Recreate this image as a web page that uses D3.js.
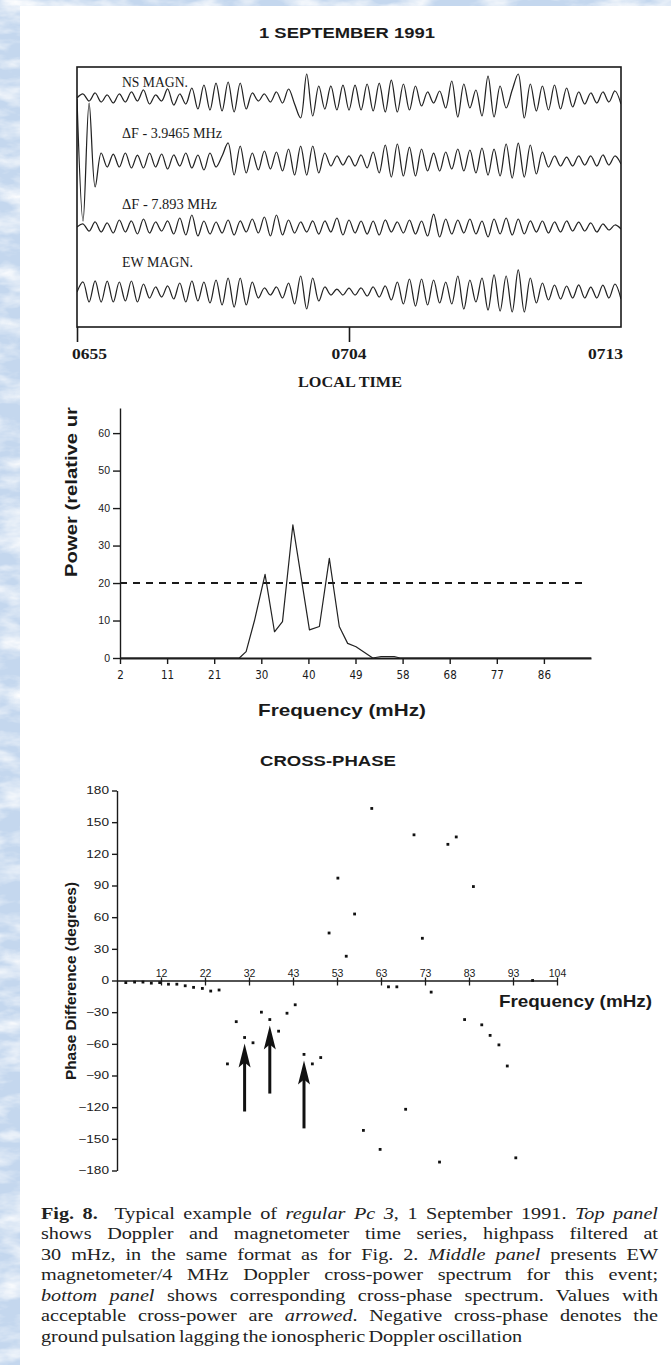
<!DOCTYPE html>
<html>
<head>
<meta charset="utf-8">
<script src="https://cdn.jsdelivr.net/npm/d3@7"></script>
<style>
  html, body { margin: 0; padding: 0; background: #c4d7ee; }
  svg { display: block; }
  .sans { font-family: "Liberation Sans", Arial, sans-serif; }
  .serif { font-family: "Liberation Serif", "Times New Roman", serif; }
</style>
</head>
<body>
<svg id="fig" width="671" height="1365"></svg>
<script>
// ---------- top panel: highpass filtered time series, one sample every 12 s ----------
const sampleStep = 12;
const timeLabels = ['0655', '0704', '0713'];
const timeTickSec = [0, 540, 1080];

const nsMagn = [0, 4, -3, 5, -4, 3, -5, 4, -4, 6, -3, 8, -6, 3, -3, 9, -7, 4, -6, 10,
  -11, 13, -12, 15, -13, 16, -14, 15, -11, 5, -3, 4, -4, 6, -5, 9, -6, -20, 24, -18,
  12, -11, 12, -12, 13, -12, 13, -12, 14, -13, 15, -14, 18, -14, 14, -12, 12, -8, 6, -5,
  7, -10, 17, -19, 14, -10, 8, -18, 22, -19, 12, -10, 8, 24, -20, 14, -13, 12, -12, 13,
  -11, 10, -9, 6, -6, 5, -5, 6, -4, 7, -6];
const df39 = [62, -60, 58, -26, 8, -6, 7, -6, 8, -7, 6, -7, 8, -6, 7, -8, 6, -5, 8, -7,
  6, -9, 8, -6, 5, 18, -14, 15, -12, 8, -9, 10, -8, 9, -10, 12, -14, 15, -14, 15,
  -12, 8, -5, 5, -4, 5, -5, 6, -7, 9, -12, 16, -16, 17, -15, 14, -15, 12, -10, 8,
  -10, 9, -8, 12, -10, 11, -12, 13, -14, 12, -15, 17, -17, 18, -16, 16, -13, 9, -6, 5,
  -5, 4, -5, 5, -4, 5, -5, 6, -4, 5, -3];
const df78 = [0, 3, -4, 5, -5, 4, -6, 7, -5, 6, -7, 8, -6, 5, -4, 6, -7, 9, -8, 12,
  -9, 6, -7, 5, -6, 7, -8, 6, -5, 8, -6, 10, -9, 12, -8, 7, -6, 5, -5, 6,
  -7, 6, -5, 9, -8, 7, -6, 6, -7, 6, -8, 7, -5, 5, -6, 7, -7, 6, -9, 13,
  -10, 8, -7, 7, -6, 8, -7, 6, -10, 8, -7, 9, -8, 8, -7, 6, -5, 6, -6, 5,
  -5, 6, -4, 5, -4, 4, -5, 3, -3, 2, -2];
const ewMagn = [0, 10, -10, 11, -10, 11, -10, 10, -9, 11, -10, 8, -6, 5, -5, 6, -7, 9, -10, 11,
  -9, 10, -11, 12, -13, 14, -15, 14, -13, 10, -6, 4, -3, 5, -6, 9, -12, 16, -17, 14,
  -9, 5, -3, 3, -3, 4, -3, 4, -4, 5, -5, 6, -8, 10, -12, 13, -14, 13, -13, 12,
  -11, 10, -12, 16, -17, 12, -10, 14, -18, 17, -19, 16, -20, 22, -20, 14, -11, 9, -8, 7,
  -7, 6, -6, 7, -6, 5, -6, 7, -6, 8, -7];

const traceNames = ['NS MAGN.', 'ΔF - 3.9465 MHz', 'ΔF - 7.893 MHz', 'EW MAGN.'];

// ---------- middle panel: cross-power spectrum ----------
const powerTicks = [2, 11, 21, 30, 40, 49, 58, 68, 77, 86];
const powerFreq = [2, 25.8, 27.1, 28.7, 30.8, 32.8, 34.5, 36.7, 38.1, 40.2, 42.1, 44.0,
  45.9, 47.5, 49.1, 52.3, 53.9, 56.4, 57.5, 95];
const powerVal = [0, 0, 1.7, 10, 22.3, 7, 9.7, 35.5, 24.4, 7.5, 8.4, 26.6,
  8.4, 3.9, 3.0, 0, 0.4, 0.4, 0, 0];
const powerLevel = 20;
const powerYTicks = [0, 10, 20, 30, 40, 50, 60];

// ---------- bottom panel: cross-phase spectrum ----------
const phaseTicks = [12, 22, 32, 43, 53, 63, 73, 83, 93, 104];
const phaseYTicks = [180, 150, 120, 90, 60, 30, 0, -30, -60, -90, -120, -150, -180];
const phaseFreq = [4.0, 6.0, 7.9, 9.8, 11.7, 13.7, 15.6, 17.5, 19.4, 21.4, 23.3, 25.2,
  27.1, 29.1, 31.0, 33.0, 35.1, 37.2, 39.4, 41.5, 43.5, 45.5, 47.4, 49.3,
  51.2, 53.2, 55.1, 57.0, 59.0, 60.9, 62.8, 64.7, 66.6, 68.6, 70.5, 72.4,
  74.4, 76.3, 78.2, 80.1, 82.0, 84.0, 85.9, 87.8, 89.8, 91.7, 93.7, 97.9];
const phaseDeg = [-2, -1.5, -1.5, -2.5, -2, -3.5, -3.5, -5, -6.5, -7.5, -10, -9,
  -79, -39, -54, -59, -30, -37, -48, -31, -23, -70, -79, -73,
  45, 97, 23, 63, -142, 163, -160, -6, -6, -122, 138, 40,
  -11, -172, 129, 136, -37, 89, -42, -52, -61, -81, -168, 0];
const arrowedFreq = [31.0, 37.2, 45.5];

const captionLines = [
  [['b', 'Fig. 8.'], ['r', '  Typical example of '], ['i', 'regular Pc 3'], ['r', ', 1 September 1991. '], ['i', 'Top panel']],
  [['r', 'shows Doppler and magnetometer time series, highpass filtered at']],
  [['r', '30 mHz, in the same format as for Fig. 2. '], ['i', 'Middle panel'], ['r', ' presents EW']],
  [['r', 'magnetometer/4 MHz Doppler cross-power spectrum for this event;']],
  [['i', 'bottom panel'], ['r', ' shows corresponding cross-phase spectrum. Values with']],
  [['r', 'acceptable cross-power are '], ['i', 'arrowed'], ['r', '. Negative cross-phase denotes the']],
  [['r', 'ground pulsation lagging the ionospheric Doppler oscillation']]
];

const ink = '#1a1a1a';
const svg = d3.select('#fig');

// mottled blue page behind the white sheet
const defs = svg.append('defs');
const mottle = defs.append('filter').attr('id', 'mottle')
  .attr('x', 0).attr('y', 0).attr('width', 1).attr('height', 1);
mottle.append('feTurbulence').attr('type', 'fractalNoise')
  .attr('baseFrequency', '0.025 0.06').attr('numOctaves', 4).attr('seed', 5);
mottle.append('feColorMatrix').attr('type', 'matrix')
  .attr('values', '0 0 0 0 1  0 0 0 0 1  0 0 0 0 1  1.9 0 0 0 -0.75');

svg.append('rect').attr('width', 671).attr('height', 1365).attr('fill', '#c4d7ee');
svg.append('rect').attr('width', 671).attr('height', 1365).attr('filter', 'url(#mottle)');
svg.append('rect').attr('x', 20).attr('y', 6).attr('width', 651).attr('height', 1359).attr('fill', '#fff');

// ================= top panel =================
const box = { left: 77, right: 621, top: 67, bottom: 327 };
const tx = d3.scaleLinear().domain([0, 1080]).range([box.left, box.right]);
const amp = d3.scaleLinear().domain([-30, 30]).range([30, -30]);
const traceCenters = [98, 161, 227, 292];
const labelBase = [87, 138, 209, 267];
const labelWidth = [66, 100, 95, 71];

svg.append('text').attr('class', 'sans')
  .attr('x', 347).attr('y', 38)
  .attr('text-anchor', 'middle')
  .attr('font-size', 14.5).attr('font-weight', 'bold')
  .attr('textLength', 176).attr('lengthAdjust', 'spacingAndGlyphs')
  .attr('fill', ink)
  .text('1 SEPTEMBER 1991');

svg.append('defs').append('clipPath').attr('id', 'boxclip')
  .append('rect').attr('x', box.left).attr('y', box.top)
  .attr('width', box.right - box.left).attr('height', box.bottom - box.top);

const traceLine = d3.line()
  .x((d, i) => tx(i * sampleStep))
  .y(d => amp(d))
  .curve(d3.curveCatmullRom);

const traces = svg.append('g').attr('clip-path', 'url(#boxclip)');
[nsMagn, df39, df78, ewMagn].forEach((series, k) => {
  traces.append('path')
    .attr('transform', `translate(0, ${traceCenters[k]})`)
    .attr('d', traceLine(series))
    .attr('fill', 'none')
    .attr('stroke', '#222')
    .attr('stroke-width', 1.25);
});

traceNames.forEach((name, k) => {
  svg.append('text').attr('class', 'serif')
    .attr('x', 122).attr('y', labelBase[k])
    .attr('font-size', 15.5)
    .attr('textLength', labelWidth[k]).attr('lengthAdjust', 'spacingAndGlyphs')
    .attr('fill', ink)
    .text(name);
});

svg.append('rect')
  .attr('x', box.left).attr('y', box.top)
  .attr('width', box.right - box.left).attr('height', box.bottom - box.top)
  .attr('fill', 'none').attr('stroke', ink).attr('stroke-width', 1.6);

svg.append('g')
  .attr('transform', `translate(0, ${box.bottom})`)
  .call(d3.axisBottom(tx).tickValues(timeTickSec.slice(0, 2)).tickSize(15).tickFormat(''))
  .call(g => g.select('.domain').remove())
  .selectAll('line').attr('stroke', ink).attr('stroke-width', 1.6);

timeTickSec.forEach((t, i) => {
  const anchor = i === 0 ? 'start' : (i === timeTickSec.length - 1 ? 'end' : 'middle');
  const shift = i === 0 ? -5 : (i === timeTickSec.length - 1 ? 2 : 0);
  svg.append('text').attr('class', 'serif')
    .attr('x', tx(t) + shift).attr('y', 359)
    .attr('text-anchor', anchor)
    .attr('font-size', 14).attr('font-weight', 'bold')
    .attr('textLength', 35).attr('lengthAdjust', 'spacingAndGlyphs')
    .attr('fill', ink)
    .text(timeLabels[i]);
});

svg.append('text').attr('class', 'serif')
  .attr('x', 350).attr('y', 387)
  .attr('text-anchor', 'middle')
  .attr('font-size', 14).attr('font-weight', 'bold')
  .attr('textLength', 104).attr('lengthAdjust', 'spacingAndGlyphs')
  .attr('fill', ink)
  .text('LOCAL TIME');

// ================= middle panel =================
const pw = { left: 120, right: 591, top: 408, bottom: 658 };
const pStep = (pw.right - pw.left) / powerTicks.length;
const px = d3.scaleLinear()
  .domain([...powerTicks, 95])
  .range(d3.range(powerTicks.length + 1).map(i => pw.left + i * pStep));
const py = d3.scaleLinear().domain([0, 66.7]).range([pw.bottom, pw.top]);

svg.append('g')
  .attr('transform', `translate(${pw.left}, 0)`)
  .call(d3.axisLeft(py).tickValues(powerYTicks).tickSize(7).tickPadding(3).tickSizeOuter(0))
  .call(g => g.selectAll('text').attr('class', 'sans').attr('font-size', 10.5).attr('fill', ink))
  .call(g => g.selectAll('line, path').attr('stroke', ink).attr('stroke-width', 1.4));

svg.append('g')
  .attr('transform', `translate(0, ${pw.bottom})`)
  .call(d3.axisBottom(px).tickValues(powerTicks).tickSize(6).tickPadding(7).tickSizeOuter(0))
  .call(g => g.selectAll('text')
    .attr('font-family', '"Liberation Sans Narrow", "DejaVu Sans Condensed", sans-serif')
    .attr('font-size', 11.5).attr('fill', ink))
  .call(g => g.selectAll('line').attr('stroke', ink).attr('stroke-width', 1.4))
  .call(g => g.select('.domain').attr('stroke', ink).attr('stroke-width', 2));

svg.append('line')
  .attr('x1', pw.left).attr('x2', pw.right - 4)
  .attr('y1', py(powerLevel)).attr('y2', py(powerLevel))
  .attr('stroke', ink).attr('stroke-width', 2)
  .attr('stroke-dasharray', '7,6');

const powerLine = d3.line()
  .x((d, i) => px(powerFreq[i]))
  .y(d => py(d));
svg.append('path')
  .attr('d', powerLine(powerVal))
  .attr('fill', 'none').attr('stroke', '#222').attr('stroke-width', 1.2)
  .attr('stroke-linejoin', 'round');

svg.append('text').attr('class', 'sans')
  .attr('transform', 'translate(77, 577) rotate(-90)')
  .attr('font-size', 16).attr('font-weight', 'bold')
  .attr('textLength', 170).attr('lengthAdjust', 'spacingAndGlyphs')
  .attr('fill', ink)
  .text('Power (relative ur');

svg.append('text').attr('class', 'sans')
  .attr('x', 342).attr('y', 716)
  .attr('text-anchor', 'middle')
  .attr('font-size', 17).attr('font-weight', 'bold')
  .attr('textLength', 168).attr('lengthAdjust', 'spacingAndGlyphs')
  .attr('fill', ink)
  .text('Frequency (mHz)');

// ================= bottom panel =================
const ph = { left: 117, right: 557, top: 790.5, bottom: 1170.5 };
const hStep = (ph.right - ph.left) / phaseTicks.length;
const hx = d3.scaleLinear()
  .domain([2, ...phaseTicks])
  .range(d3.range(phaseTicks.length + 1).map(i => ph.left + i * hStep));
const hy = d3.scaleLinear().domain([-180, 180]).range([ph.bottom, ph.top]);

svg.append('text').attr('class', 'sans')
  .attr('x', 328).attr('y', 766)
  .attr('text-anchor', 'middle')
  .attr('font-size', 14.5).attr('font-weight', 'bold')
  .attr('textLength', 136).attr('lengthAdjust', 'spacingAndGlyphs')
  .attr('fill', ink)
  .text('CROSS-PHASE');

const yScaleX = 1.3;
svg.append('g')
  .attr('transform', `translate(${ph.left}, 0)`)
  .call(d3.axisLeft(hy).tickValues(phaseYTicks).tickSize(5).tickPadding(3).tickSizeOuter(0))
  .call(g => g.selectAll('text')
    .attr('class', 'sans').attr('font-size', 10.5).attr('fill', ink)
    .attr('x', -8 / yScaleX)
    .attr('transform', `scale(${yScaleX}, 1)`))
  .call(g => g.selectAll('line, path').attr('stroke', ink).attr('stroke-width', 1.4));

svg.append('g')
  .attr('transform', `translate(0, ${hy(0)})`)
  .call(d3.axisBottom(hx).tickValues(phaseTicks).tickSize(5).tickSizeOuter(0))
  .call(g => g.selectAll('.tick line').attr('y1', -3))
  .call(g => g.selectAll('text')
    .attr('class', 'sans').attr('font-size', 10.5).attr('fill', ink)
    .attr('y', -4).attr('dy', 0))
  .call(g => g.selectAll('line').attr('stroke', ink).attr('stroke-width', 1.3))
  .call(g => g.select('.domain').attr('stroke', ink).attr('stroke-width', 1.6));

svg.append('g')
  .selectAll('rect')
  .data(phaseDeg)
  .enter()
  .append('rect')
  .attr('x', (d, i) => hx(phaseFreq[i]) - 1.4)
  .attr('y', d => hy(d) - 1.4)
  .attr('width', 2.8).attr('height', 2.8)
  .attr('fill', '#111');

// arrows under the values with acceptable cross-power
const arrowLen = 68;
const arrows = svg.append('g')
  .selectAll('g')
  .data(arrowedFreq)
  .enter()
  .append('g')
  .attr('transform', f => {
    const i = phaseFreq.indexOf(f);
    return `translate(${hx(f)}, ${hy(phaseDeg[i]) + 6})`;
  });
arrows.append('line')
  .attr('x1', 0).attr('x2', 0)
  .attr('y1', 18).attr('y2', arrowLen)
  .attr('stroke', '#111').attr('stroke-width', 3);
arrows.append('path')
  .attr('d', 'M0,0 L6,24 L0,19 L-6,24 Z')
  .attr('fill', '#111');

svg.append('text').attr('class', 'sans')
  .attr('transform', 'translate(76, 981) rotate(-90)')
  .attr('text-anchor', 'middle')
  .attr('font-size', 15).attr('font-weight', 'bold')
  .attr('textLength', 198).attr('lengthAdjust', 'spacingAndGlyphs')
  .attr('fill', ink)
  .text('Phase Difference (degrees)');

svg.append('text').attr('class', 'sans')
  .attr('x', 499).attr('y', 1007)
  .attr('font-size', 17).attr('font-weight', 'bold')
  .attr('textLength', 153).attr('lengthAdjust', 'spacingAndGlyphs')
  .attr('fill', ink)
  .text('Frequency (mHz)');

// ================= caption =================
// set in a slightly widened serif; all but the last line are justified through word spacing
const capTop = 1219, capLead = 20.5, capLeft = 41, capWidth = 617, capStretch = 1.19;
const capG = svg.append('g')
  .attr('transform', `translate(${capLeft}, 0) scale(${capStretch}, 1)`);
captionLines.forEach((parts, k) => {
  const t = capG.append('text').attr('class', 'serif')
    .attr('x', 0).attr('y', capTop + k * capLead)
    .attr('font-size', 17).attr('fill', '#222')
    .attr('xml:space', 'preserve');
  parts.forEach(([style, str]) => {
    t.append('tspan')
      .attr('font-weight', style === 'b' ? 'bold' : null)
      .attr('font-style', style === 'i' ? 'italic' : null)
      .text(str);
  });
  if (k < captionLines.length - 1) {
    const full = parts.map(p => p[1]).join('');
    const gaps = (full.match(/ /g) || []).length;
    const natural = t.node().getComputedTextLength();
    t.attr('word-spacing', (capWidth / capStretch - natural) / gaps);
  } else {
    t.attr('word-spacing', -1.5);
  }
});
</script>
</body>
</html>
